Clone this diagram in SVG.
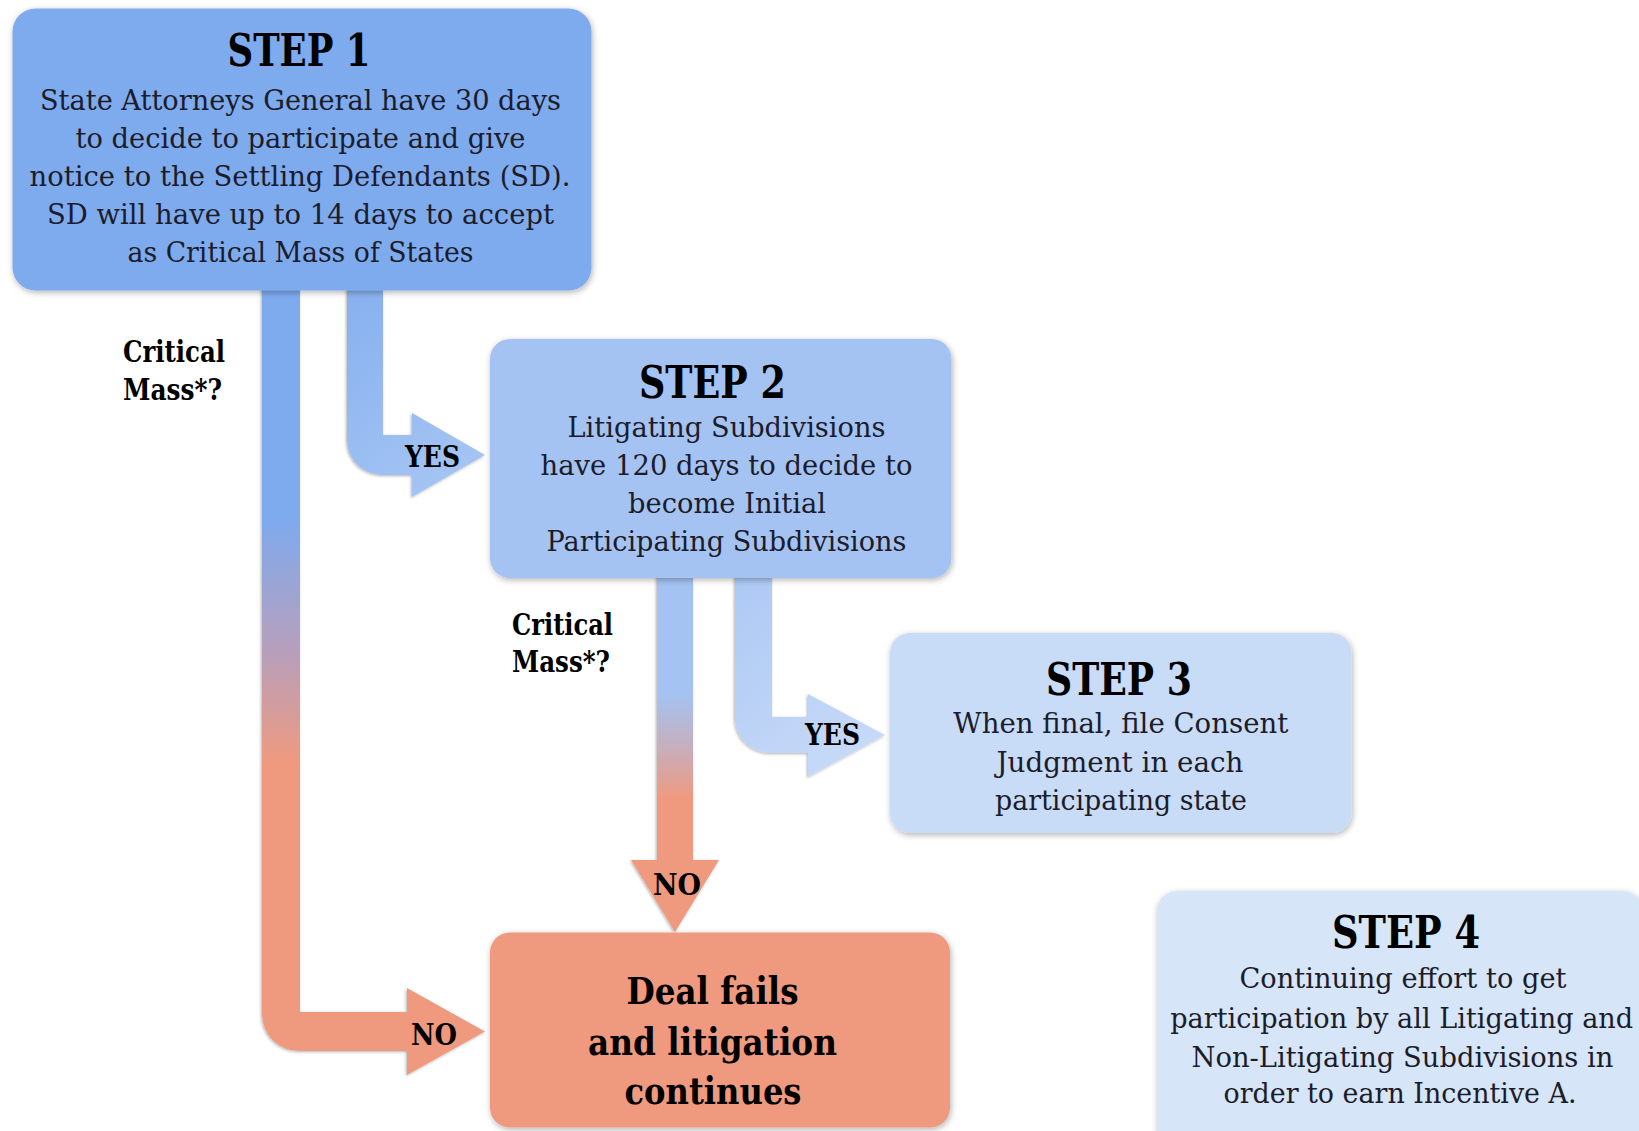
<svg xmlns="http://www.w3.org/2000/svg" width="1639" height="1131" viewBox="0 0 1639 1131">
<defs>
  <filter id="shadow" x="-10%" y="-10%" width="120%" height="125%">
    <feDropShadow dx="1" dy="2" stdDeviation="3" flood-color="#000" flood-opacity="0.3"/>
  </filter>
  <filter id="ashadow" x="-20%" y="-5%" width="140%" height="115%">
    <feDropShadow dx="-1" dy="1" stdDeviation="1.5" flood-color="#000" flood-opacity="0.3"/>
  </filter>
  <linearGradient id="gA" gradientUnits="userSpaceOnUse" x1="0" y1="290" x2="0" y2="1080">
    <stop offset="0" stop-color="#7eaaee"/>
    <stop offset="0.29" stop-color="#7eaaee"/>
    <stop offset="0.46" stop-color="#b89fbb"/>
    <stop offset="0.60" stop-color="#ef9a7e"/>
    <stop offset="1" stop-color="#ef9a7e"/>
  </linearGradient>
  <linearGradient id="gC" gradientUnits="userSpaceOnUse" x1="0" y1="575" x2="0" y2="935">
    <stop offset="0" stop-color="#a4c3f2"/>
    <stop offset="0.33" stop-color="#a4c3f2"/>
    <stop offset="0.48" stop-color="#c7aebd"/>
    <stop offset="0.62" stop-color="#ef9a7e"/>
    <stop offset="1" stop-color="#ef9a7e"/>
  </linearGradient>
  <linearGradient id="gB" gradientUnits="userSpaceOnUse" x1="347" y1="300" x2="485" y2="500">
    <stop offset="0" stop-color="#88b1ef"/>
    <stop offset="1" stop-color="#a9c7f4"/>
  </linearGradient>
  <linearGradient id="gD" gradientUnits="userSpaceOnUse" x1="735" y1="580" x2="885" y2="780">
    <stop offset="0" stop-color="#adc9f4"/>
    <stop offset="1" stop-color="#cbdcf8"/>
  </linearGradient>
</defs>
<style>
  .box{filter:url(#shadow)}
  .body{font-family:"DejaVu Serif","Liberation Serif",serif;font-size:27px;fill:#1c1c2a;text-anchor:middle}
  .head{font-family:"DejaVu Serif","Liberation Serif",serif;font-weight:bold;font-size:45px;fill:#000;text-anchor:middle}
  .lbl{font-family:"DejaVu Serif","Liberation Serif",serif;font-weight:bold;font-size:30px;fill:#000}
  .deal{font-family:"DejaVu Serif","Liberation Serif",serif;font-weight:bold;font-size:38px;fill:#000;text-anchor:middle}
</style>
<rect width="1639" height="1131" fill="#ffffff"/>

<g id="connectors">
  <path id="arrowA" filter="url(#ashadow)" fill="url(#gA)" d="M262 286 L300 286 L300 1012 L407 1012 L407 988 L485 1031.5 L407 1075 L407 1051 L299 1051 A37 37 0 0 1 262 1014 Z"/>
  <path id="arrowB" filter="url(#ashadow)" fill="url(#gB)" d="M347 286 L383 286 L383 435 L412 435 L412 413 L485 455 L412 497 L412 475 L382 475 A35 35 0 0 1 347 440 Z"/>
  <path id="arrowC" filter="url(#ashadow)" fill="url(#gC)" d="M657 574 L693 574 L693 860 L719 860 L675 932 L631 860 L657 860 Z"/>
  <path id="arrowD" filter="url(#ashadow)" fill="url(#gD)" d="M735 574 L772 574 L772 717 L808 717 L808 694 L885 735 L808 777 L808 753 L770 753 A35 35 0 0 1 735 718 Z"/>
  <text class="lbl" x="123" y="362" textLength="102" lengthAdjust="spacingAndGlyphs">Critical</text>
  <text class="lbl" x="123" y="400" textLength="99" lengthAdjust="spacingAndGlyphs">Mass*?</text>
  <text class="lbl" x="405" y="467" textLength="55" lengthAdjust="spacingAndGlyphs">YES</text>
  <text class="lbl" x="512" y="635" textLength="101" lengthAdjust="spacingAndGlyphs">Critical</text>
  <text class="lbl" x="512" y="672" textLength="98" lengthAdjust="spacingAndGlyphs">Mass*?</text>
  <text class="lbl" x="805" y="745" textLength="55" lengthAdjust="spacingAndGlyphs">YES</text>
  <text class="lbl" x="653" y="895" textLength="48" lengthAdjust="spacingAndGlyphs">NO</text>
  <text class="lbl" x="411" y="1045" textLength="46" lengthAdjust="spacingAndGlyphs">NO</text>
</g>

<g id="step1">
  <rect class="box" x="12.5" y="8.5" width="579" height="282" rx="23" fill="#7eaaee"/>
  <text class="head" x="299" y="66" textLength="143" lengthAdjust="spacingAndGlyphs">STEP 1</text>
  <text class="body" x="300.5" y="110" textLength="521" lengthAdjust="spacingAndGlyphs">State Attorneys General have 30 days</text>
  <text class="body" x="300.5" y="148" textLength="450" lengthAdjust="spacingAndGlyphs">to decide to participate and give</text>
  <text class="body" x="300" y="186" textLength="541" lengthAdjust="spacingAndGlyphs">notice to the Settling Defendants (SD).</text>
  <text class="body" x="300.5" y="224" textLength="507" lengthAdjust="spacingAndGlyphs">SD will have up to 14 days to accept</text>
  <text class="body" x="300.5" y="262" textLength="346" lengthAdjust="spacingAndGlyphs">as Critical Mass of States</text>
</g>

<g id="step2">
  <rect class="box" x="490" y="339" width="461.5" height="239" rx="20" fill="#a4c3f2"/>
  <text class="head" x="712.4" y="398" textLength="147" lengthAdjust="spacingAndGlyphs">STEP 2</text>
  <text class="body" x="726.5" y="437" textLength="318" lengthAdjust="spacingAndGlyphs">Litigating Subdivisions</text>
  <text class="body" x="726.5" y="475" textLength="372" lengthAdjust="spacingAndGlyphs">have 120 days to decide to</text>
  <text class="body" x="727" y="513" textLength="198" lengthAdjust="spacingAndGlyphs">become Initial</text>
  <text class="body" x="726.5" y="551" textLength="360" lengthAdjust="spacingAndGlyphs">Participating Subdivisions</text>
</g>

<g id="step3">
  <rect class="box" x="890" y="633" width="461.5" height="200" rx="20" fill="#c8dbf7"/>
  <text class="head" x="1119" y="695" textLength="146" lengthAdjust="spacingAndGlyphs">STEP 3</text>
  <text class="body" x="1120.8" y="733" textLength="335" lengthAdjust="spacingAndGlyphs">When final, file Consent</text>
  <text class="body" x="1120" y="772" textLength="247" lengthAdjust="spacingAndGlyphs">Judgment in each</text>
  <text class="body" x="1121" y="810" textLength="252" lengthAdjust="spacingAndGlyphs">participating state</text>
</g>

<g id="step4">
  <rect class="box" x="1157" y="891" width="485" height="260" rx="20" fill="#d6e5f8"/>
  <text class="head" x="1406" y="948" textLength="148" lengthAdjust="spacingAndGlyphs">STEP 4</text>
  <text class="body" x="1403" y="988" textLength="327" lengthAdjust="spacingAndGlyphs">Continuing effort to get</text>
  <text class="body" x="1401.7" y="1028" textLength="463" lengthAdjust="spacingAndGlyphs">participation by all Litigating and</text>
  <text class="body" x="1402.5" y="1067" textLength="422" lengthAdjust="spacingAndGlyphs">Non-Litigating Subdivisions in</text>
  <text class="body" x="1400" y="1103" textLength="353" lengthAdjust="spacingAndGlyphs">order to earn Incentive A.</text>
</g>

<g id="deal">
  <rect class="box" x="490" y="932.5" width="460" height="195" rx="20" fill="#ef9a7e"/>
  <text class="deal" x="712.5" y="1004" textLength="172" lengthAdjust="spacingAndGlyphs">Deal fails</text>
  <text class="deal" x="712.5" y="1055" textLength="249" lengthAdjust="spacingAndGlyphs">and litigation</text>
  <text class="deal" x="713" y="1104" textLength="177" lengthAdjust="spacingAndGlyphs">continues</text>
</g>
</svg>
